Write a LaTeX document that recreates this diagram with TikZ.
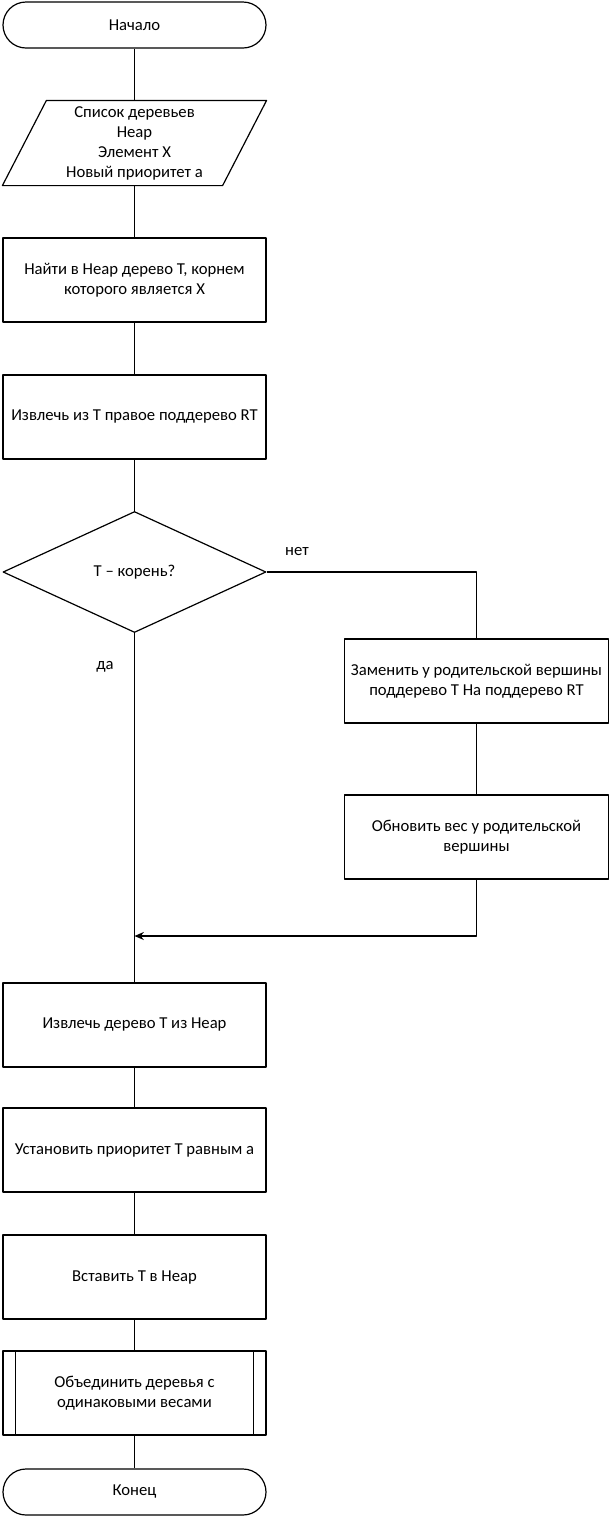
\documentclass[tikz,border=0pt]{standalone}
\usepackage{fontspec}
\setmainfont{Carlito}
\usetikzlibrary{shapes.geometric,arrows.meta}
\begin{document}
\begin{tikzpicture}[x=0.75pt,y=-0.75pt,>={Stealth[length=7pt,width=6pt]}, font=\fontsize{12.5}{15}\selectfont, line width=0.9pt, line join=round,
	block/.style={draw, rectangle, align=center, minimum width=197.25pt, minimum height=63pt, inner sep=0pt},
	term/.style={draw, rectangle, rounded corners=17.25pt, minimum width=197.25pt, minimum height=34.5pt, inner sep=0pt},
	cond/.style={draw, diamond, minimum width=197.25pt, minimum height=90.75pt, inner sep=0pt}]
	\def\xl{134.5} \def\xr{476.5} % оси
	\useasboundingbox (0,0) rectangle (615,1518);
	\node[term] (start) at (\xl,25) {Начало};
	\node[align=center, minimum width=197.25pt, minimum height=63pt, inner sep=0pt] (data) at (\xl,143) {Список деревьев\\Heap\\Элемент X\\Новый приоритет a};
	\draw ([xshift=33pt]data.north west) -- (data.north east) -- ([xshift=-33pt]data.south east) -- (data.south west) -- cycle;
	\node[block] (find) at (\xl,280) {Найти в Heap дерево T, корнем\\которого является X};
	\node[block] (cut) at (\xl,417) {Извлечь из T правое поддерево RT};
	\node[cond] (isroot) at (\xl,572) {T -- корень?};
	\node[block, minimum width=198pt] (repl) at (\xr,681) {Заменить у родительской вершины\\поддерево T На поддерево RT};
	\node[block, minimum width=198pt] (upd) at (\xr,837) {Обновить вес у родительской\\вершины};
	\coordinate (join) at (\xl,936);
	\node[block] (take) at (\xl,1025) {Извлечь дерево T из Heap};
	\node[block] (prio) at (\xl,1150) {Установить приоритет T равным a};
	\node[block] (put) at (\xl,1277) {Вставить T в Heap};
	\node[block] (unite) at (\xl,1393) {Объединить деревья с\\одинаковыми весами};
	\draw ([xshift=9.75pt]unite.north west) -- ([xshift=9.75pt]unite.south west) ([xshift=-9.75pt]unite.north east) -- ([xshift=-9.75pt]unite.south east);
	\node[term] (stop) at (\xl,1492) {Конец};
	\draw (start) -- (data) (data) -- (find) (find) -- (cut) (cut) -- (isroot);
	\draw (isroot.east) -| (repl.north) (repl) -- (upd);
	\draw[->] (upd.south) |- (join);
	\draw (isroot.south) -- (take.north) (take) -- (prio) (prio) -- (put) (put) -- (unite) (unite) -- (stop);
	\node (no) at (297,552) {нет};
	\node (yes) at (105,667) {да};
\end{tikzpicture}
\end{document}
